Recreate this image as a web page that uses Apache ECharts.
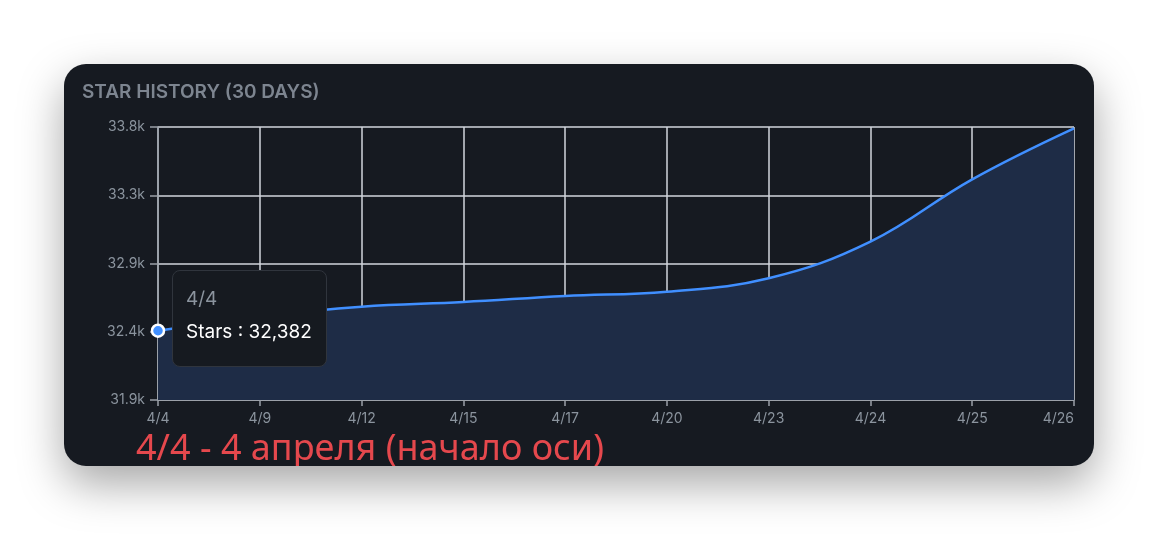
<!DOCTYPE html>
<html>
<head>
<meta charset="utf-8">
<script src="https://cdn.jsdelivr.net/npm/echarts@6/dist/echarts.min.js"></script>
<style>
html,body{margin:0;padding:0;background:#ffffff;width:1168px;height:541px;overflow:hidden;}
#card{position:absolute;left:64px;top:64px;width:1030px;height:402px;border-radius:22px;background:#161a21;overflow:hidden;box-shadow:0 18px 45px rgba(0,0,0,0.35);}
#chart{position:absolute;left:0;top:0;width:1030px;height:402px;}
</style>
</head>
<body>
<div id="card"><div id="chart"></div></div>
<script>
const titleText = 'STAR HISTORY (30 DAYS)';
const annotationText = '4/4 - 4 апреля (начало оси)';
const seriesName = 'Stars';
const dates = ['4/4','4/9','4/12','4/15','4/17','4/20','4/23','4/24','4/25','4/26'];
const stars = [32382, 32480, 32549, 32582, 32624, 32654, 32747, 33002, 33436, 33791];
const yMin = 31900;
const yMax = 33800;
const yStep = 475;

const chart = echarts.init(document.getElementById('chart'), null, {renderer:'canvas'});
const font = 'Inter, "Noto Sans", sans-serif';
const option = {
  animation:false,
  backgroundColor:'transparent',
  title:{
    text:titleText, left:13, top:14,
    textStyle:{color:'#7d8590', fontSize:19, fontWeight:600, fontFamily:font}
  },
  grid:{left:94, right:20, top:63, bottom:66},
  tooltip:{
    trigger:'axis',
    alwaysShowContent:true,
    axisPointer:{type:'none'},
    position:[108,206],
    backgroundColor:'#161a20',
    borderColor:'#30353d',
    borderWidth:1,
    padding:[13,14,16,13],
    extraCssText:'border-radius:8px;box-shadow:none;',
    formatter:function(params){
      const p = params[0];
      return '<div style="font-family:Inter,sans-serif;font-size:19px;line-height:30px;color:#8b949e">'+p.name+'</div>'+
             '<div style="font-family:Inter,sans-serif;font-size:19px;line-height:36px;color:#ffffff">'+p.seriesName+' : '+Number(p.value).toLocaleString('en-US')+'</div>';
    }
  },
  xAxis:{
    type:'category',
    data:dates,
    boundaryGap:false,
    axisLine:{lineStyle:{color:'#9aa0a8', width:1.5}},
    axisTick:{show:true, alignWithLabel:true, length:6, lineStyle:{color:'#9aa0a8', width:1.5}},
    axisLabel:{color:'#8b949e', fontSize:14, fontFamily:font, margin:12, alignMaxLabel:'right'},
    splitLine:{show:true, lineStyle:{color:'#d2d6dc', width:1.5}}
  },
  yAxis:{
    type:'value',
    min:yMin, max:yMax, interval:yStep,
    axisLine:{show:true, lineStyle:{color:'#9aa0a8', width:1.5}},
    axisTick:{show:true, length:8, lineStyle:{color:'#9aa0a8', width:1.5}},
    axisLabel:{color:'#8b949e', fontSize:14, fontFamily:font, margin:13,
      formatter:function(v){return (v/1000).toFixed(1)+'k';}},
    splitLine:{show:true, lineStyle:{color:'#d2d6dc', width:1.5}}
  },
  graphic:[{
    type:'text', left:72, top:368,
    style:{text:annotationText, fill:'#e5484d', font:'400 36px "Noto Sans", sans-serif'}
  }],
  series:[{
    name:seriesName,
    type:'line',
    smooth:0.4,
    symbol:'none',
    data:stars.map(function(v,i){
      return i===0 ? {value:v, symbol:'circle', symbolSize:12,
        itemStyle:{color:'#3b82f6', borderColor:'#ffffff', borderWidth:2.5}} : v;
    }),
    lineStyle:{color:'#3b82f6', width:2.5},
    itemStyle:{color:'#3b82f6'},
    areaStyle:{color:'#1c2840', opacity:1},
    emphasis:{scale:false, focus:'none'}
  }]
};
chart.setOption(option);
chart.dispatchAction({type:'showTip', seriesIndex:0, dataIndex:0});
</script>
</body>
</html>
